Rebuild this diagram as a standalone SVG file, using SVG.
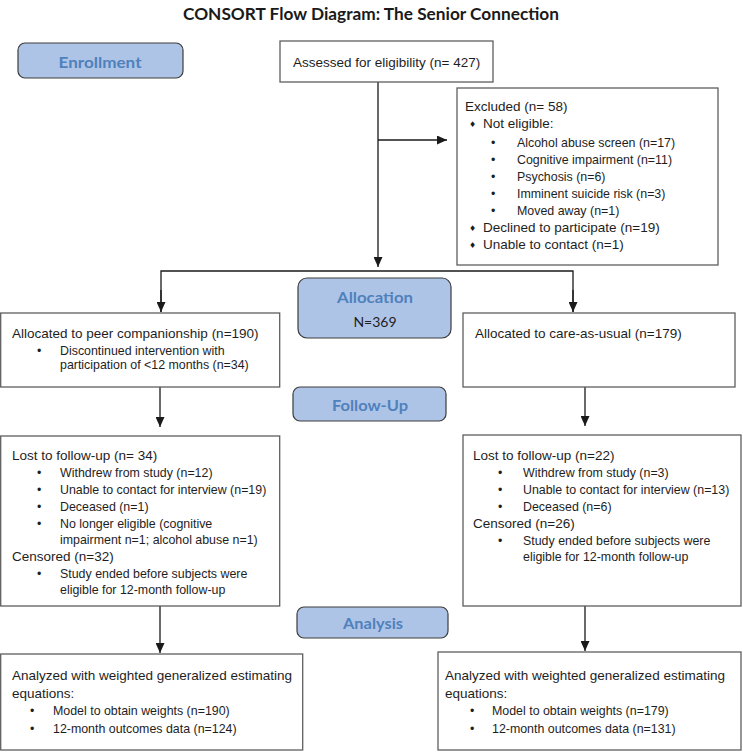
<svg xmlns="http://www.w3.org/2000/svg" width="743" height="753" viewBox="0 0 743 753">
<defs>
<marker id="ah" markerUnits="userSpaceOnUse" markerWidth="10" markerHeight="9" refX="10" refY="4.5" orient="auto">
<path d="M0,0 L10,4.5 L0,9 Z" fill="#1a1a1a"/>
</marker>
</defs>
<style>
.box{fill:#fff;stroke:#5f5f5f;stroke-width:1.3}
.lab{fill:#aec4e6;stroke:#3c3c3c;stroke-width:1.2}
text{font-family:"Liberation Sans",Arial,sans-serif;fill:#1e1e1e}
.h{font-size:13.5px}
.s{font-size:12.4px}
.d{font-family:"DejaVu Sans",sans-serif;font-size:8px}
.lt{font-family:Lato,"Open Sans",sans-serif;font-weight:bold;font-size:16px;fill:#4f81bd;text-anchor:middle}
.n{font-family:Lato,"Open Sans",sans-serif;font-size:14px;text-anchor:middle}
.ttl{font-family:Lato,"Open Sans",sans-serif;font-weight:bold;font-size:17px;text-anchor:middle;fill:#1a1a1a}
.ln{stroke:#1a1a1a;stroke-width:1.3;fill:none}
</style>
<rect width="743" height="753" fill="#fff"/>
<text class="ttl" x="371" y="20" textLength="376" lengthAdjust="spacingAndGlyphs">CONSORT Flow Diagram: The Senior Connection</text>

<g id="connectors">
<line class="ln" x1="378" y1="82" x2="378" y2="267" marker-end="url(#ah)"/>
<line class="ln" x1="378" y1="140" x2="447" y2="140" marker-end="url(#ah)"/>
<polyline class="ln" points="161,312 161,271 573,271 573,312"/>
<line class="ln" x1="161" y1="290" x2="161" y2="312" marker-end="url(#ah)"/>
<line class="ln" x1="573" y1="290" x2="573" y2="312" marker-end="url(#ah)"/>
<line class="ln" x1="160" y1="387" x2="160" y2="427" marker-end="url(#ah)"/>
<line class="ln" x1="585" y1="387" x2="585" y2="426" marker-end="url(#ah)"/>
<line class="ln" x1="160" y1="606" x2="160" y2="653" marker-end="url(#ah)"/>
<line class="ln" x1="585" y1="606" x2="585" y2="651" marker-end="url(#ah)"/>
</g>

<g id="enrollment">
<rect class="lab" x="18" y="43" width="165" height="35" rx="7"/>
<text class="lt" x="100" y="68" textLength="83" lengthAdjust="spacingAndGlyphs">Enrollment</text>
</g>

<g id="assessed">
<rect class="box" x="280" y="41" width="213" height="41"/>
<text class="h" x="293" y="67">Assessed for eligibility (n= 427)</text>
</g>

<g id="excluded">
<rect class="box" x="457" y="88" width="261" height="177"/>
<text class="h" x="465" y="111">Excluded  (n= 58)</text>
<text class="d" x="469" y="127">♦</text>
<text class="h" x="483" y="128">Not eligible:</text>
<text class="s" x="491" y="147">•</text>
<text class="s" x="517" y="147">Alcohol abuse screen (n=17)</text>
<text class="s" x="491" y="164">•</text>
<text class="s" x="517" y="164">Cognitive impairment (n=11)</text>
<text class="s" x="491" y="181">•</text>
<text class="s" x="517" y="181">Psychosis (n=6)</text>
<text class="s" x="491" y="198">•</text>
<text class="s" x="517" y="198">Imminent suicide risk (n=3)</text>
<text class="s" x="491" y="215">•</text>
<text class="s" x="517" y="215">Moved away (n=1)</text>
<text class="d" x="469" y="231">♦</text>
<text class="h" x="483" y="232">Declined to participate (n=19)</text>
<text class="d" x="469" y="248">♦</text>
<text class="h" x="483" y="249">Unable to contact (n=1)</text>
</g>

<g id="allocation">
<rect class="lab" x="298" y="278" width="153" height="60" rx="9"/>
<text class="lt" x="375" y="303" textLength="76" lengthAdjust="spacingAndGlyphs">Allocation</text>
<text class="n" x="375" y="327">N=369</text>
</g>

<g id="peer">
<rect class="box" x="0.7" y="313" width="279" height="74"/>
<text class="h" x="12" y="338">Allocated to peer companionship (n=190)</text>
<text class="s" x="37" y="355">•</text>
<text class="s" x="60" y="355">Discontinued intervention with</text>
<text class="s" x="60" y="369">participation of &lt;12 months (n=34)</text>
</g>

<g id="care">
<rect class="box" x="463" y="313" width="272" height="74"/>
<text class="h" x="475" y="338">Allocated to care-as-usual (n=179)</text>
</g>

<g id="followup">
<rect class="lab" x="293" y="387" width="153" height="34" rx="7"/>
<text class="lt" x="370" y="410.5" textLength="76" lengthAdjust="spacingAndGlyphs">Follow-Up</text>
</g>

<g id="lost-left">
<rect class="box" x="0.7" y="436" width="279" height="170"/>
<text class="h" x="12" y="460">Lost to follow-up (n= 34)</text>
<text class="s" x="37" y="477">•</text>
<text class="s" x="60" y="477">Withdrew from study (n=12)</text>
<text class="s" x="37" y="494">•</text>
<text class="s" x="60" y="494">Unable to contact for interview (n=19)</text>
<text class="s" x="37" y="511">•</text>
<text class="s" x="60" y="511">Deceased (n=1)</text>
<text class="s" x="37" y="528">•</text>
<text class="s" x="60" y="528">No longer eligible (cognitive</text>
<text class="s" x="60" y="544">impairment n=1; alcohol abuse n=1)</text>
<text class="h" x="12" y="561">Censored (n=32)</text>
<text class="s" x="37" y="578">•</text>
<text class="s" x="60" y="578">Study ended before subjects were</text>
<text class="s" x="60" y="594">eligible for 12-month follow-up</text>
</g>

<g id="lost-right">
<rect class="box" x="463" y="435" width="278" height="171"/>
<text class="h" x="473" y="460">Lost to follow-up (n=22)</text>
<text class="s" x="498" y="477">•</text>
<text class="s" x="523" y="477">Withdrew from study (n=3)</text>
<text class="s" x="498" y="494">•</text>
<text class="s" x="523" y="494">Unable to contact for interview (n=13)</text>
<text class="s" x="498" y="511">•</text>
<text class="s" x="523" y="511">Deceased (n=6)</text>
<text class="h" x="473" y="528">Censored (n=26)</text>
<text class="s" x="498" y="545">•</text>
<text class="s" x="523" y="545">Study ended before subjects were</text>
<text class="s" x="523" y="561">eligible for 12-month follow-up</text>
</g>

<g id="analysis">
<rect class="lab" x="297" y="607" width="151" height="31" rx="7"/>
<text class="lt" x="373" y="629" textLength="60" lengthAdjust="spacingAndGlyphs">Analysis</text>
</g>

<g id="analyzed-left">
<rect class="box" x="0.7" y="654" width="302" height="96"/>
<text class="h" x="12" y="680">Analyzed with weighted generalized estimating</text>
<text class="h" x="12" y="698">equations:</text>
<text class="s" x="30" y="715">•</text>
<text class="s" x="53" y="715">Model to obtain weights (n=190)</text>
<text class="s" x="30" y="733">•</text>
<text class="s" x="53" y="733">12-month outcomes data (n=124)</text>
</g>

<g id="analyzed-right">
<rect class="box" x="438" y="652" width="303" height="98"/>
<text class="h" x="445" y="680">Analyzed with weighted generalized estimating</text>
<text class="h" x="445" y="698">equations:</text>
<text class="s" x="470" y="715">•</text>
<text class="s" x="492" y="715">Model to obtain weights (n=179)</text>
<text class="s" x="470" y="733">•</text>
<text class="s" x="492" y="733">12-month outcomes data (n=131)</text>
</g>
</svg>
